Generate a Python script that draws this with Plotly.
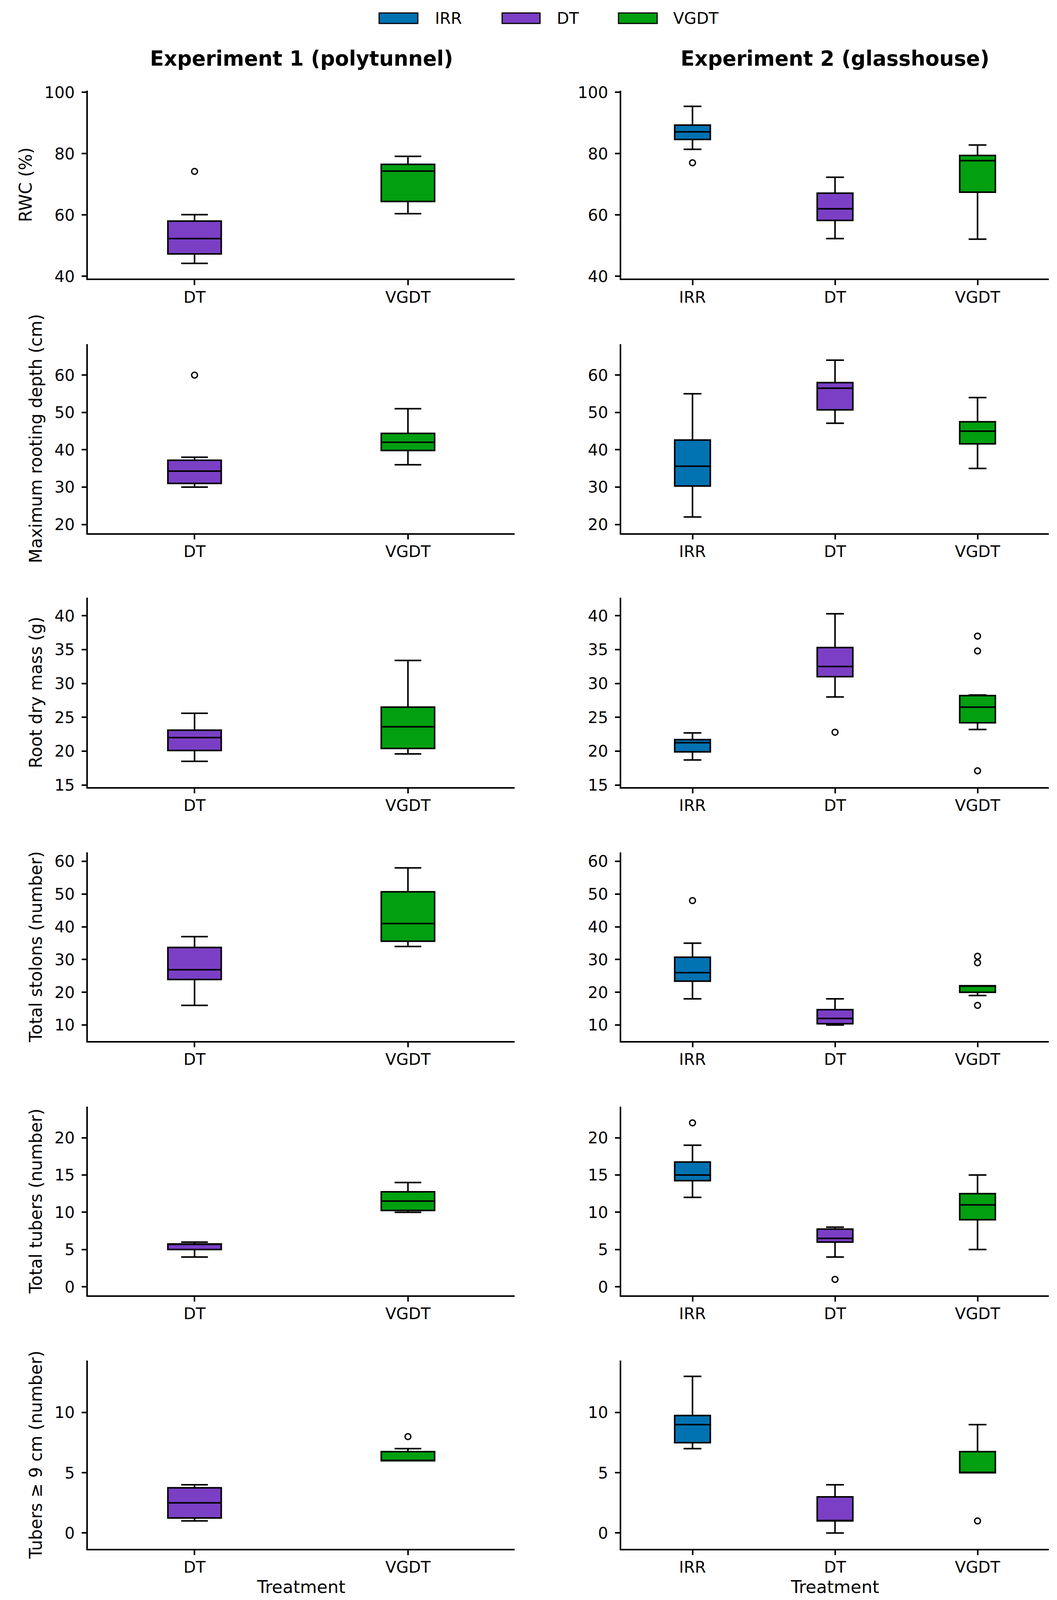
import plotly.graph_objects as go

W, H = 2707, 5184

groups_e1 = ["DT", "VGDT"]
groups_e2 = ["IRR", "DT", "VGDT"]
colors = {"IRR": "#0072B2", "DT": "#7B3FC6", "VGDT": "#00A010"}

# box summaries per group: [lower whisker, Q1, median, Q3, upper whisker]
rwc_e1 = [[44.2, 47.3, 52.3, 58.0, 60.1], [60.4, 64.4, 74.3, 76.5, 79.1]]
rwc_e2 = [[81.4, 84.6, 87.1, 89.3, 95.4], [52.3, 58.2, 62.0, 67.1, 72.3], [52.1, 67.4, 77.7, 79.4, 82.8]]
rwc_e1_out = [[74.2], []]
rwc_e2_out = [[77.0], [], []]

depth_e1 = [[30.0, 31.0, 34.3, 37.2, 38.0], [36.0, 39.8, 42.0, 44.4, 51.0]]
depth_e2 = [[22.0, 30.3, 35.6, 42.6, 55.0], [47.1, 50.7, 56.5, 58.0, 64.0], [35.0, 41.6, 45.0, 47.5, 54.0]]
depth_e1_out = [[60.0], []]
depth_e2_out = [[], [], []]

mass_e1 = [[18.5, 20.1, 22.0, 23.1, 25.6], [19.6, 20.4, 23.6, 26.5, 33.4]]
mass_e2 = [[18.7, 19.9, 21.25, 21.7, 22.7], [28.0, 31.0, 32.5, 35.3, 40.3], [23.2, 24.2, 26.5, 28.2, 28.3]]
mass_e1_out = [[], []]
mass_e2_out = [[], [22.8], [17.1, 34.8, 37.0]]

stolons_e1 = [[16, 23.9, 26.9, 33.7, 37], [34, 35.6, 41, 50.7, 58]]
stolons_e2 = [[18, 23.4, 26, 30.7, 35], [10, 10.4, 12, 14.7, 18], [19, 20, 22, 22, 22]]
stolons_e1_out = [[], []]
stolons_e2_out = [[48], [], [16, 29, 31]]

tubers_e1 = [[4, 5, 5.75, 5.75, 6], [10, 10.25, 11.5, 12.75, 14]]
tubers_e2 = [[12, 14.25, 15, 16.75, 19], [4, 6, 6.5, 7.75, 8], [5, 9, 11, 12.5, 15]]
tubers_e1_out = [[], []]
tubers_e2_out = [[22], [1], []]

big_e1 = [[1, 1.25, 2.5, 3.75, 4], [6, 6, 6, 6.75, 7]]
big_e2 = [[7, 7.5, 9, 9.75, 13], [0, 1, 1, 3, 4], [5, 5, 5, 6.75, 9]]
big_e1_out = [[], [8]]
big_e2_out = [[], [], [1]]

y_titles = ["RWC (%)", "Maximum rooting depth (cm)", "Root dry mass (g)",
            "Total stolons (number)", "Total tubers (number)", "Tubers ≥ 9 cm (number)"]
y_ranges = [[39.2, 100.5], [17.7, 68.3], [14.7, 42.65], [5.1, 62.8], [-1.15, 24.2], [-1.31, 14.32]]
y_dticks = [20, 10, 5, 10, 5, 5]
col_titles = ["Experiment 1 (polytunnel)", "Experiment 2 (glasshouse)"]

rows = [
    (rwc_e1, rwc_e2, rwc_e1_out, rwc_e2_out),
    (depth_e1, depth_e2, depth_e1_out, depth_e2_out),
    (mass_e1, mass_e2, mass_e1_out, mass_e2_out),
    (stolons_e1, stolons_e2, stolons_e1_out, stolons_e2_out),
    (tubers_e1, tubers_e2, tubers_e1_out, tubers_e2_out),
    (big_e1, big_e2, big_e1_out, big_e2_out),
]

# layout measured in reference pixels (left/right of each column, top/bottom of each row)
col_px = [(225, 1318), (1591, 2686)]
row_px = [(294, 903), (1115, 1727), (1937, 2550), (2761, 3373), (3585, 4197), (4408, 5018)]

FONT = "DejaVu Sans"
fig = go.Figure()
layout = {}

for r, (e1, e2, o1, o2) in enumerate(rows):
    for c, (stats, outs, groups) in enumerate([(e1, o1, groups_e1), (e2, o2, groups_e2)]):
        k = r * 2 + c + 1
        xa, ya = f"x{k}", f"y{k}"
        for g, s, out in zip(groups, stats, outs):
            fig.add_trace(go.Box(
                x=[g], lowerfence=[s[0]], q1=[s[1]], median=[s[2]], q3=[s[3]], upperfence=[s[4]],
                fillcolor=colors[g], line=dict(color="black", width=4),
                width=0.25, whiskerwidth=0.5, boxpoints=False,
                name=g, showlegend=False, hoverinfo="y",
                xaxis=xa, yaxis=ya))
            if out:
                fig.add_trace(go.Scatter(
                    x=[g] * len(out), y=out, mode="markers",
                    marker=dict(symbol="circle-open", size=15, color="black", line=dict(width=3.5)),
                    showlegend=False, xaxis=xa, yaxis=ya))

        common = dict(showline=True, linecolor="black", linewidth=3.5, ticks="outside",
                      ticklen=14, tickwidth=3.5, tickcolor="black", showgrid=False,
                      zeroline=False, automargin=False,
                      tickfont=dict(family=FONT, size=46, color="black"))
        x0, x1 = col_px[c]
        t, b = row_px[r]
        xax = dict(common, domain=[x0 / W, x1 / W], anchor=ya, type="category",
                   categoryorder="array", categoryarray=groups,
                   range=[-0.5, len(groups) - 0.5], ticklabelstandoff=-4)
        if r == len(rows) - 1:
            xax["title"] = dict(text="Treatment", font=dict(family=FONT, size=50, color="black"),
                                standoff=14)
        yax = dict(common, domain=[1 - b / H, 1 - t / H], anchor=xa,
                   range=y_ranges[r], dtick=y_dticks[r], tick0=0, ticklabelstandoff=10)
        if c == 0:
            yax["title"] = dict(text=y_titles[r], font=dict(family=FONT, size=49, color="black"),
                                standoff=22)
        sfx = "" if k == 1 else str(k)
        layout["xaxis" + sfx] = xax
        layout["yaxis" + sfx] = yax

annotations = []
for c, txt in enumerate(col_titles):
    x0, x1 = col_px[c]
    annotations.append(dict(text=txt, x=(x0 + x1) / 2 / W, y=1 - 189 / H, xref="paper", yref="paper",
                            xanchor="center", yanchor="middle", showarrow=False,
                            font=dict(family=FONT, size=59, color="black", weight="bold")))

# legend drawn as patches + labels
legend_names = ["IRR", "DT", "VGDT"]
legend_box_px = [(971, 1070), (1286, 1383), (1584, 1683)]
legend_text_px = [1112, 1424, 1722]
shapes = []
for name, (bx0, bx1), tx in zip(legend_names, legend_box_px, legend_text_px):
    shapes.append(dict(type="rect", xref="paper", yref="paper",
                       x0=bx0 / W, x1=bx1 / W, y0=1 - 76 / H, y1=1 - 42 / H,
                       fillcolor=colors[name], line=dict(color="black", width=3)))
    annotations.append(dict(text=name, x=tx / W, y=1 - 59 / H, xref="paper", yref="paper",
                            xanchor="left", yanchor="middle", showarrow=False,
                            font=dict(family=FONT, size=46, color="black")))

fig.update_layout(
    autosize=True,
    margin=dict(l=0, r=0, t=0, b=0),
    paper_bgcolor="white", plot_bgcolor="white",
    font=dict(family=FONT, color="black"),
    showlegend=False, boxmode="overlay",
    annotations=annotations, shapes=shapes,
    **layout)

# the figure fills the window; if the window is shorter than the 5184 px design,
# text and tick sizes shrink with it (square root keeps a balance between
# the height and the width of the page)
post = """
document.body.style.margin = '0';
var gd = document.getElementById('{plot_id}');
var s = Math.sqrt(window.innerHeight / %d);
if (Math.abs(s - 1) > 0.01) {
  var u = {};
  Object.keys(gd.layout).forEach(function (k) {
    if (!/^[xy]axis[0-9]*$/.test(k)) return;
    var a = gd.layout[k];
    u[k + '.tickfont.size'] = a.tickfont.size * s;
    u[k + '.ticklen'] = a.ticklen * s;
    u[k + '.ticklabelstandoff'] = Math.round(a.ticklabelstandoff * s);
    if (a.title && a.title.text) {
      u[k + '.title.font.size'] = a.title.font.size * s;
      u[k + '.title.standoff'] = a.title.standoff * s;
    }
  });
  gd.layout.annotations.forEach(function (an, i) {
    u['annotations[' + i + '].font.size'] = an.font.size * s;
  });
  Plotly.relayout(gd, u);
}
""" % H

fig.write_html("out.html", default_width="100vw", default_height="100vh",
               config={"displayModeBar": False}, post_script=post)
